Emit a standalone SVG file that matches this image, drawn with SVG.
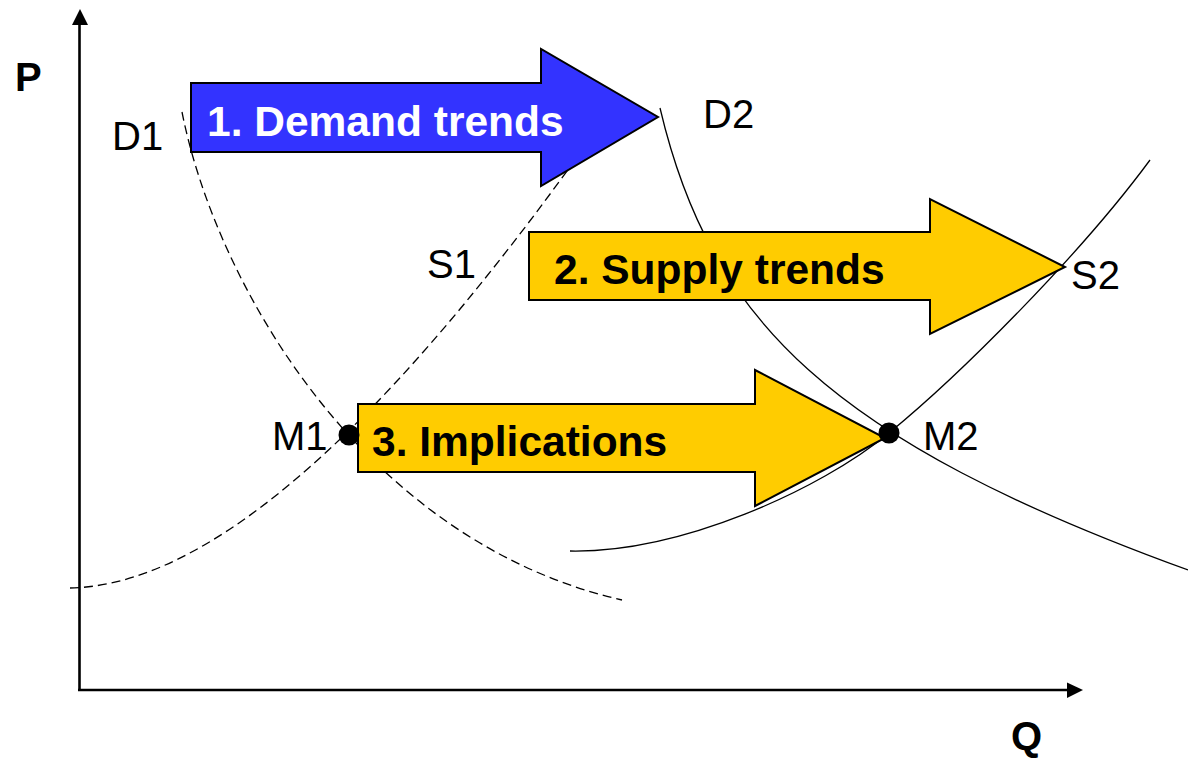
<svg xmlns="http://www.w3.org/2000/svg" width="1188" height="759" viewBox="0 0 1188 759">
<style>
.axis{stroke:#000;stroke-width:2.6;fill:none}
.dash{stroke:#000;stroke-width:1.3;fill:none;stroke-dasharray:9,5}
.solid{stroke:#000;stroke-width:1.3;fill:none}
.arrow{stroke:#000;stroke-width:2;stroke-linejoin:miter}
.blue{fill:#3333FF}
.yellow{fill:#FFCC00}
.lbl{font-family:"Liberation Sans",Arial,sans-serif;font-size:40px;fill:#000}
.bold{font-family:"Liberation Sans",Arial,sans-serif;font-size:42.5px;font-weight:bold}
.ax{font-family:"Liberation Sans",Arial,sans-serif;font-size:40px;font-weight:bold;fill:#000}
</style>
<rect width="1188" height="759" fill="#fff"/>
<g id="axes">
<line class="axis" x1="79.5" y1="690" x2="79.5" y2="24"/>
<polygon points="72,25 88,25 80,9" fill="#000"/>
<line class="axis" x1="78" y1="690" x2="1068" y2="690"/>
<polygon points="1067,682.5 1067,698 1083,690" fill="#000"/>
<text class="ax" x="15" y="91">P</text>
<text class="ax" x="1011" y="750">Q</text>
</g>
<g id="connectors">
<path id="curve-D1" class="dash" d="M182,112 C215,280 360,540 622,600"/>
<path id="curve-S1" class="dash" d="M70,588 C230,585 420,380 600,125"/>
<path id="curve-D2" class="solid" d="M660,108 C710,320 830,440 1188,570"/>
<path id="curve-S2" class="solid" d="M570,551 C680,553 820,490 889,433 C960,375 1080,255 1150,160"/>
</g>
<g id="label-D1"><text class="lbl" x="112" y="150">D1</text></g>
<g id="label-D2"><text class="lbl" x="703" y="128">D2</text></g>
<g id="label-S1"><text class="lbl" x="427" y="278">S1</text></g>
<g id="label-S2"><text class="lbl" x="1071" y="289">S2</text></g>
<g id="label-M1"><text class="lbl" x="272" y="450">M1</text></g>
<g id="label-M2"><text class="lbl" x="923" y="450">M2</text></g>
<g id="arrow-demand">
<polygon class="arrow blue" points="191,83 541,83 541,49 658,117 541,186 541,152 191,152"/>
<text class="bold" x="207" y="136" fill="#fff">1. Demand trends</text>
</g>
<g id="arrow-supply">
<polygon class="arrow yellow" points="529,232 930,232 930,199 1065,267 930,334 930,300 529,300"/>
<text class="bold" x="554" y="284" fill="#000">2. Supply trends</text>
</g>
<g id="arrow-implications">
<polygon class="arrow yellow" points="358,404 755,404 755,370 885,438 755,506 755,472 358,472"/>
<text class="bold" x="372" y="456" fill="#000">3. Implications</text>
</g>
<g id="point-M1"><circle cx="349" cy="435" r="10.5" fill="#000"/></g>
<g id="point-M2"><circle cx="889" cy="433" r="10.5" fill="#000"/></g>
</svg>
